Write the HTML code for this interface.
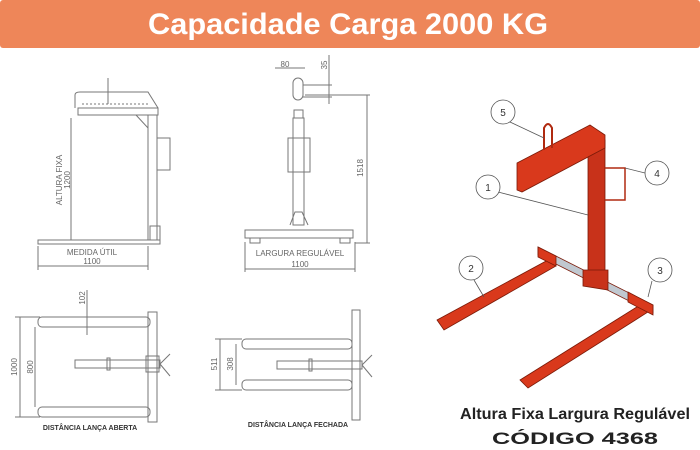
<!DOCTYPE html>
<html><head><meta charset="utf-8"><style>
html,body{margin:0;padding:0;background:#fff;}
svg{display:block;font-family:"Liberation Sans",sans-serif;}
</style></head><body>
<svg width="700" height="450" viewBox="0 0 700 450" xmlns="http://www.w3.org/2000/svg">
<rect x="0" y="0" width="700" height="48" rx="3" fill="#ee8659"/>
<text x="348" y="34" text-anchor="middle" font-size="30" font-weight="bold" fill="#fff" textLength="400" lengthAdjust="spacingAndGlyphs">Capacidade Carga 2000 KG</text>

<g fill="none" stroke="#777" stroke-width="1">
<!-- side view -->
<path d="M75,108 L75,95 Q75,92 80,92 L148,92 L158,108"/>
<rect x="78" y="108" width="80" height="7"/>
<path d="M82,104 L150,104" stroke-dasharray="2,2"/>
<line x1="108" y1="78" x2="108" y2="104"/>
<path d="M136,115 L148,128"/>
<rect x="148" y="115" width="9" height="125"/>
<rect x="157" y="138" width="13" height="32"/>
<rect x="150" y="226" width="10" height="14"/>
<rect x="38" y="240" width="122" height="4"/>
<line x1="71" y1="118" x2="71" y2="240"/>
<line x1="38" y1="246" x2="38" y2="270"/><line x1="148" y1="246" x2="148" y2="270"/>
<line x1="38" y1="266" x2="148" y2="266"/>
<!-- front view -->
<rect x="293" y="78" width="10" height="22" rx="5"/>
<rect x="294" y="110" width="9" height="8"/>
<rect x="293" y="118" width="11" height="107"/>
<rect x="288" y="138" width="22" height="34"/>
<path d="M290,225 L295,212 L302,212 L308,225"/>
<rect x="245" y="230" width="108" height="8"/>
<rect x="250" y="238" width="10" height="5"/><rect x="340" y="238" width="10" height="5"/>
<line x1="367" y1="95" x2="367" y2="243"/>
<line x1="305" y1="95" x2="370" y2="95"/><line x1="355" y1="243" x2="370" y2="243"/>
<line x1="275" y1="68" x2="305" y2="68"/>
<line x1="303" y1="85" x2="332" y2="85"/><line x1="303" y1="97" x2="332" y2="97"/>
<line x1="329" y1="55" x2="329" y2="104"/>
<line x1="245" y1="242" x2="245" y2="272"/><line x1="355" y1="242" x2="355" y2="272"/>
<line x1="245" y1="269" x2="355" y2="269"/>
<!-- open view -->
<rect x="38" y="317" width="112" height="10" rx="4"/>
<rect x="38" y="407" width="112" height="10" rx="4"/>
<rect x="148" y="312" width="9" height="110"/>
<rect x="75" y="360" width="85" height="8"/>
<rect x="107" y="358" width="3" height="12"/>
<rect x="146" y="356" width="13" height="16"/>
<path d="M160,364 L170,354 M160,364 L170,376"/>
<line x1="20" y1="317" x2="20" y2="417"/><line x1="35" y1="327" x2="35" y2="407"/>
<line x1="15" y1="317" x2="40" y2="317"/><line x1="15" y1="417" x2="40" y2="417"/>
<line x1="87" y1="290" x2="87" y2="335"/>
<!-- closed view -->
<rect x="352" y="310" width="8" height="110"/>
<rect x="242" y="339" width="110" height="10" rx="4"/>
<rect x="242" y="380" width="110" height="10" rx="4"/>
<rect x="277" y="361" width="85" height="8"/>
<rect x="309" y="359" width="3" height="12"/>
<path d="M362,365 L372,355 M362,365 L372,377"/>
<line x1="220" y1="339" x2="220" y2="390"/><line x1="236" y1="344" x2="236" y2="385"/>
<line x1="215" y1="339" x2="242" y2="339"/><line x1="215" y1="390" x2="242" y2="390"/>
</g>
<g fill="#666" font-size="8">
<text transform="translate(62,180) rotate(-90)" text-anchor="middle">ALTURA FIXA</text>
<text transform="translate(70,180) rotate(-90)" text-anchor="middle">1200</text>
<text x="92" y="255" text-anchor="middle">MEDIDA ÚTIL</text>
<text x="92" y="264" text-anchor="middle">1100</text>
<text x="285" y="67" text-anchor="middle">80</text>
<text transform="translate(327,65) rotate(-90)" text-anchor="middle">35</text>
<text transform="translate(363,168) rotate(-90)" text-anchor="middle">1518</text>
<text x="300" y="256" text-anchor="middle">LARGURA REGULÁVEL</text>
<text x="300" y="267" text-anchor="middle">1100</text>
<text transform="translate(17,367) rotate(-90)" text-anchor="middle">1000</text>
<text transform="translate(33,367) rotate(-90)" text-anchor="middle">800</text>
<text transform="translate(85,298) rotate(-90)" text-anchor="middle">102</text>
<text transform="translate(217,364) rotate(-90)" text-anchor="middle">511</text>
<text transform="translate(233,364) rotate(-90)" text-anchor="middle">308</text>
</g>
<g fill="#333" font-size="7" font-weight="bold">
<text x="90" y="430" text-anchor="middle">DISTÂNCIA LANÇA ABERTA</text>
<text x="298" y="427" text-anchor="middle">DISTÂNCIA LANÇA FECHADA</text>
</g>

<!-- isometric -->
<g stroke="#7a1a08" stroke-width="0.8">
<polygon points="437,320 548,260 556,266 444,330" fill="#d9391c"/>
<polygon points="520,380 640,305 648,312 528,388" fill="#d9391c"/>
<polygon points="538,247 653,305 653,313 538,255" fill="#c0c8d0"/>
<polygon points="538,247 556,256 556,266 538,257" fill="#d9391c"/>
<polygon points="628,292 653,305 653,315 628,302" fill="#d9391c"/>
<polygon points="588,140 605,140 605,285 588,280" fill="#c8321a"/>
<polygon points="583,270 608,270 608,290 583,286" fill="#c8321a"/>
<polygon points="517,163 590,125 605,135 605,148 522,192 517,190" fill="#d9391c"/>
<path d="M605,168 L625,168 L625,200 L605,200" fill="none" stroke="#b02a10" stroke-width="1.5"/>
<path d="M544,150 L544,128 Q548,120 552,128 L552,148" fill="none" stroke="#b02a10" stroke-width="2"/>
</g>
<g fill="#fff" stroke="#555" stroke-width="0.8">
<line x1="510" y1="122" x2="544" y2="138"/>
<line x1="645" y1="173" x2="625" y2="168"/>
<line x1="498" y1="192" x2="588" y2="215"/>
<line x1="474" y1="280" x2="484" y2="297"/>
<line x1="652" y1="281" x2="648" y2="297"/>
<circle cx="503" cy="112" r="12"/><circle cx="657" cy="173" r="12"/>
<circle cx="488" cy="187" r="12"/><circle cx="471" cy="268" r="12"/>
<circle cx="660" cy="270" r="12"/>
</g>
<g font-size="10" fill="#333" text-anchor="middle">
<text x="503" y="116">5</text><text x="657" y="177">4</text><text x="488" y="191">1</text>
<text x="471" y="272">2</text><text x="660" y="274">3</text>
</g>
<g font-weight="bold" fill="#222" text-anchor="middle">
<text x="575" y="419" font-size="16" textLength="230" lengthAdjust="spacingAndGlyphs">Altura Fixa Largura Regulável</text>
<text x="575" y="444" font-size="17" textLength="166" lengthAdjust="spacingAndGlyphs">CÓDIGO 4368</text>
</g>
</svg>
</body></html>
